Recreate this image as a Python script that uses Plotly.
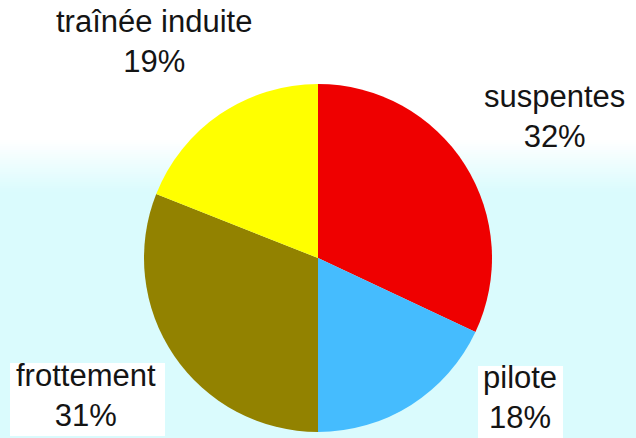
import plotly.graph_objects as go

# Répartition de la traînée parasite
labels = ["suspentes", "pilote", "frottement", "traînée induite"]
values = [32, 18, 31, 19]
colors = ["#ef0000", "#45bcfe", "#928200", "#ffff00"]

W, H = 636, 438

fig = go.Figure()

fig.add_trace(go.Pie(
    labels=labels,
    values=values,
    marker=dict(colors=colors, line=dict(width=0)),
    sort=False,
    direction="clockwise",
    rotation=0,
    textinfo="none",
    hoverinfo="label+percent",
    showlegend=False,
    domain=dict(x=[142 / W, 494 / W], y=[(H - 432) / H, (H - 84) / H]),
))

# Fond : blanc en haut, dégradé vers un cyan très pâle
shapes = []
top_c = (255, 255, 255)
bot_c = (218, 251, 253)
g0, g1 = 140, 192
steps = 26
for i in range(steps):
    y0 = g0 + (g1 - g0) * i / steps
    y1 = g0 + (g1 - g0) * (i + 1) / steps + 0.6
    t = (i + 0.5) / steps
    c = tuple(round(top_c[k] + (bot_c[k] - top_c[k]) * t) for k in range(3))
    shapes.append(dict(type="rect", xref="paper", yref="paper",
                       x0=0, x1=1, y0=1 - y1 / H, y1=1 - y0 / H,
                       fillcolor="rgb(%d,%d,%d)" % c, line=dict(width=0),
                       layer="below"))
shapes.append(dict(type="rect", xref="paper", yref="paper",
                   x0=0, x1=1, y0=0, y1=1 - g1 / H,
                   fillcolor="rgb(%d,%d,%d)" % bot_c, line=dict(width=0),
                   layer="below"))

# Cadres blancs derrière les étiquettes du bas
for (x0, x1, y0, y1) in [(10, 165, 363, 436), (478, 563, 366, 440)]:
    shapes.append(dict(type="rect", xref="paper", yref="paper",
                       x0=x0 / W, x1=x1 / W, y0=1 - y1 / H, y1=1 - y0 / H,
                       fillcolor="white", line=dict(width=0), layer="below"))

# Étiquettes : nom + pourcentage
total = sum(values)
label_pos = {
    "suspentes": (554, 116),
    "pilote": (520, 397),
    "frottement": (86, 395),
    "traînée induite": (154, 42),
}
annotations = []
for lab, val in zip(labels, values):
    px, py = label_pos[lab]
    pct = round(100 * val / total)
    annotations.append(dict(
        text="%s<br>%d%%" % (lab, pct),
        x=px / W, y=1 - py / H, xref="paper", yref="paper",
        xanchor="center", yanchor="middle", showarrow=False,
        align="center", borderpad=0,
        font=dict(family="Liberation Sans, Arial, sans-serif", size=31,
                  color="#141414"),
    ))

fig.update_layout(
    width=W, height=H,
    margin=dict(l=0, r=0, t=0, b=0),
    paper_bgcolor="white",
    plot_bgcolor="white",
    shapes=shapes,
    annotations=annotations,
)

fig.write_html("out.html")
